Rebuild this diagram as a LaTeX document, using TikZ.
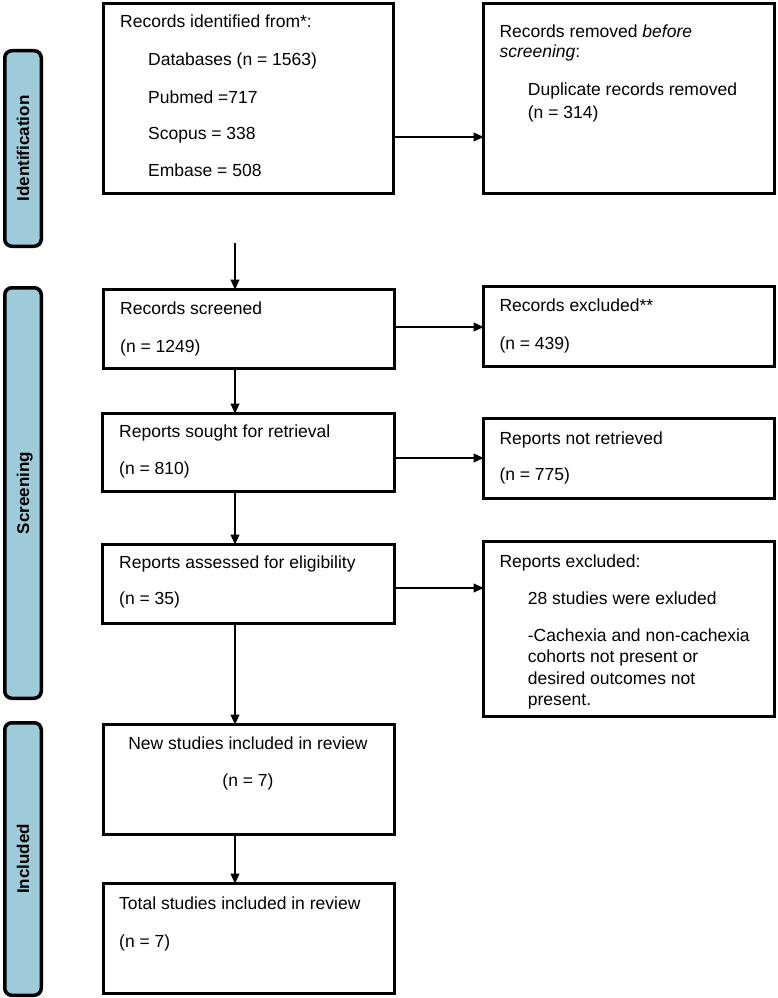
\documentclass[tikz,border=0pt]{standalone}
\usepackage{fontspec}
\setmainfont{Liberation Sans}
\usetikzlibrary{arrows.meta}
\definecolor{sidebl}{RGB}{158,203,217}
\tikzset{
  box/.style={draw=black, line width=3pt, fill=white, outer sep=0pt, inner sep=0pt, anchor=north west},
  side/.style={draw=black, line width=3.5pt, fill=sidebl, rounded corners=7pt, outer sep=0pt, inner sep=0pt, anchor=north west},
  sidelab/.style={rotate=90, font=\fontsize{17}{20}\selectfont\bfseries, inner sep=0pt, text height=12.2pt, text depth=0pt, anchor=center},
  txt/.style={font=\fontsize{17.5}{21}\selectfont, inner sep=0pt, anchor=base west},
  txtc/.style={font=\fontsize{17.5}{21}\selectfont, inner sep=0pt, anchor=base},
  arr/.style={line width=1.1pt, -{Triangle[length=10pt,width=9pt]}}
}
\newcommand{\mybox}[6][box]{\node[#1, minimum width={(#5-#3)*1pt}, minimum height={(#6-#4)*1pt}] (#2) at (#3,#4) {};}
\begin{document}
\begin{tikzpicture}[x=1pt,y=-1pt]
\useasboundingbox (0,0) rectangle (777,998);
% side bars
\mybox[side]{sid}{4.75}{50.75}{41.25}{246.25}
\mybox[side]{sscr}{4.75}{287.75}{41.25}{698.25}
\mybox[side]{sinc}{4.75}{722.75}{41.25}{995.25}
\node[sidelab] (lid) at (sid.center) {Identification};
\node[sidelab] (lscr) at (sscr.center) {Screening};
\node[sidelab] (linc) at (sinc.center) {Included};
% boxes
\mybox{A}{103.5}{3.5}{393.5}{193.5}
\mybox{B}{483.5}{3.5}{774.5}{193.5}
\mybox{C}{103.5}{289.5}{394.5}{368.5}
\mybox{D}{102.5}{413.5}{394.5}{491.5}
\mybox{E}{102.5}{544.5}{394.5}{623.5}
\mybox{F}{483.5}{286.5}{774.5}{366.5}
\mybox{G}{483.5}{418.5}{774.5}{498.5}
\mybox{H}{483.5}{541.5}{774.5}{716.5}
\mybox{I}{103.5}{724.5}{394.5}{834.5}
\mybox{J}{103.5}{883.5}{394.5}{993.5}
% texts
\node[txt] (a1) at (120,27.5) {Records identified from*:};
\node[txt] (a2) at (148,66) {Databases (n = 1563)};
\node[txt] (a3) at (148,103) {Pubmed =717};
\node[txt] (a4) at (148,139.5) {Scopus = 338};
\node[txt] (a5) at (148,176.5) {Embase = 508};
\node[txt] (b1) at (499.3,37.5) {Records removed \textit{before}};
\node[txt] (b2) at (499.3,57) {\textit{screening}:};
\node[txt] (b3) at (527.7,95.5) {Duplicate records removed};
\node[txt] (b4) at (527.7,118) {(n = 314)};
\node[txt] (c1) at (120,314) {Records screened};
\node[txt] (c2) at (120,352) {(n = 1249)};
\node[txt] (d1) at (119,437.5) {Reports sought for retrieval};
\node[txt] (d2) at (119,474) {(n = 810)};
\node[txt] (e1) at (119,568.5) {Reports assessed for eligibility};
\node[txt] (e2) at (119,604) {(n = 35)};
\node[txt] (f1) at (499.3,311) {Records excluded**};
\node[txt] (f2) at (499.3,349) {(n = 439)};
\node[txt] (g1) at (499.3,444) {Reports not retrieved};
\node[txt] (g2) at (499.3,480.5) {(n = 775)};
\node[txt] (h1) at (499.3,567.5) {Reports excluded:};
\node[txt] (h2) at (527.7,604) {28 studies were exluded};
\node[txt] (h3) at (527.7,641) {-Cachexia and non-cachexia};
\node[txt] (h4) at (527.7,662.5) {cohorts not present or};
\node[txt] (h5) at (527.7,684) {desired outcomes not};
\node[txt] (h6) at (527.7,705.5) {present.};
\node[txtc] (i1) at (248,749) {New studies included in review};
\node[txtc] (i2) at (248,786) {(n = 7)};
\node[txt] (j1) at (119,909) {Total studies included in review};
\node[txt] (j2) at (119,947) {(n = 7)};
% connectors
\coordinate (xm) at (235,0);
\coordinate (s1) at (235,243);
\coordinate (yab) at (0,137);
\coordinate (ycf) at (0,327);
\coordinate (ydg) at (0,458);
\coordinate (yeh) at (0,588);
\draw[arr] (A.east |- yab) -- (B.west |- yab);
\draw[arr] (s1) -- (s1 |- C.north);
\draw[arr] (C.south -| xm) -- (D.north -| xm);
\draw[arr] (D.south -| xm) -- (E.north -| xm);
\draw[arr] (E.south -| xm) -- (I.north -| xm);
\draw[arr] (I.south -| xm) -- (J.north -| xm);
\draw[arr] (C.east |- ycf) -- (F.west |- ycf);
\draw[arr] (D.east |- ydg) -- (G.west |- ydg);
\draw[arr] (E.east |- yeh) -- (H.west |- yeh);
\end{tikzpicture}
\end{document}
